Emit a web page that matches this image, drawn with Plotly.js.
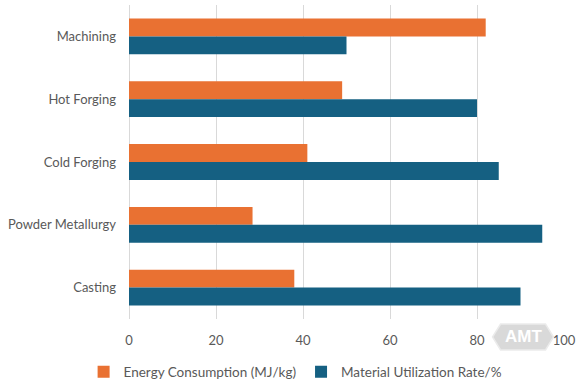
<!DOCTYPE html>
<html>
<head>
<meta charset="utf-8">
<script src="https://cdn.plot.ly/plotly-3.0.1.min.js"></script>
<style>html,body{margin:0;padding:0;background:#fff;}#chart{width:582px;height:384px;}</style>
</head>
<body>
<div id="chart"></div>
<script>
const categories = ["Machining", "Hot Forging", "Cold Forging", "Powder Metallurgy", "Casting"];
const energyName = "Energy Consumption (MJ/kg)";
const materialName = "Material Utilization Rate/%";
const energyValues = [82, 49, 41, 28.4, 38];
const materialValues = [50, 80, 85, 95, 90];
const xTickValues = [0, 20, 40, 60, 80, 100];

const fontFamily = "Lato, 'Open Sans', sans-serif";
const textColor = "#595959";

const traces = [
  {type: "bar", orientation: "h", name: energyName, y: categories, x: energyValues,
   marker: {color: "#E97132"}, hoverinfo: "x+y"},
  {type: "bar", orientation: "h", name: materialName, y: categories, x: materialValues,
   marker: {color: "#156082"}, hoverinfo: "x+y"}
];

const layout = {
  width: 582, height: 384,
  margin: {l: 129, r: 17.5, t: 5, b: 65, autoexpand: false},
  paper_bgcolor: "#ffffff", plot_bgcolor: "#ffffff",
  font: {family: fontFamily, size: 13, color: textColor},
  barmode: "group", bargap: 0.43, bargroupgap: 0,
  xaxis: {
    range: [0, 100], tickvals: xTickValues, ticktext: xTickValues.map(String),
    showgrid: true, gridcolor: "#d9d9d9", gridwidth: 1,
    zeroline: true, zerolinecolor: "#d9d9d9", zerolinewidth: 1,
    showline: false, ticks: "", ticklabelstandoff: 12, automargin: false,
    tickfont: {family: fontFamily, size: 13, color: textColor}, fixedrange: true
  },
  yaxis: {
    type: "category", autorange: "reversed", showgrid: false, zeroline: false,
    showline: false, ticks: "", ticklabelstandoff: 12, automargin: false,
    tickfont: {family: fontFamily, size: 13, color: textColor}, fixedrange: true
  },
  legend: {
    orientation: "h", x: 0.383, xanchor: "center", y: 0.031, yref: "container", yanchor: "middle",
    font: {family: fontFamily, size: 13.5, color: textColor}, itemwidth: 30,
    traceorder: "normal"
  },
  shapes: [{
    type: "path", xref: "paper", yref: "paper",
    path: "M 0.8358 -0.0573 L 0.8542 -0.0159 L 0.9575 -0.0159 L 0.9759 -0.0573 L 0.9575 -0.0987 L 0.8542 -0.0987 Z",
    fillcolor: "#d9d9d9", line: {color: "#ebebeb", width: 1.5}, layer: "above"
  }],
  annotations: [{
    xref: "paper", yref: "paper", x: 0.9058, y: -0.0573, xanchor: "center", yanchor: "middle",
    text: "<b>AMT</b>", showarrow: false,
    font: {family: "'Liberation Sans', Arial, sans-serif", size: 17, color: "#ffffff"}
  }]
};

Plotly.newPlot("chart", traces, layout, {displayModeBar: false, staticPlot: true});
</script>
</body>
</html>
